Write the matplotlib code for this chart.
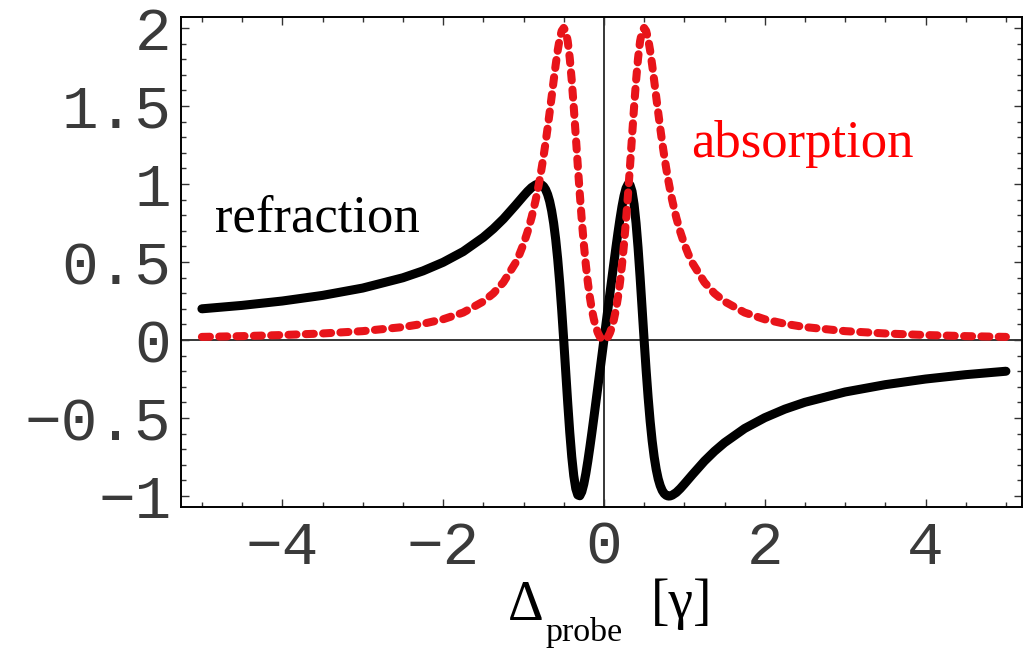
import matplotlib
matplotlib.use("Agg")
import matplotlib.pyplot as plt
from matplotlib.ticker import MultipleLocator, FixedLocator, FixedFormatter

# probe detuning in units of gamma (left half, then right half)
detuning_left = [-5.0, -4.5, -4.0, -3.5, -3.0, -2.5, -2.25, -2.0, -1.75, -1.5,
                 -1.375, -1.25, -1.1, -1.05, -1.0, -0.95, -0.9, -0.85, -0.825, -0.8,
                 -0.775, -0.75, -0.725, -0.7, -0.675, -0.65, -0.625, -0.6, -0.575, -0.55,
                 -0.525, -0.5, -0.475, -0.45, -0.425, -0.4, -0.375, -0.35, -0.325, -0.3,
                 -0.275, -0.25, -0.225, -0.2, -0.175, -0.15, -0.125, -0.1, -0.075, -0.05,
                 -0.025, 0.0]
absorption_left = [0.02, 0.025, 0.032, 0.042, 0.057, 0.083, 0.104, 0.133, 0.176, 0.247,
                   0.299, 0.37, 0.494, 0.55, 0.615, 0.693, 0.785, 0.894, 0.957, 1.025,
                   1.1, 1.18, 1.267, 1.36, 1.459, 1.56, 1.663, 1.763, 1.854, 1.93,
                   1.981, 2.0, 1.979, 1.915, 1.807, 1.663, 1.492, 1.307, 1.118, 0.936,
                   0.767, 0.615, 0.483, 0.37, 0.275, 0.196, 0.133, 0.083, 0.046, 0.02,
                   0.005, 0.0]
refraction_left = [0.2, 0.222, 0.25, 0.286, 0.333, 0.399, 0.443, 0.498, 0.567, 0.658,
                   0.713, 0.776, 0.863, 0.893, 0.923, 0.952, 0.977, 0.994, 0.999, 1.0,
                   0.995, 0.984, 0.964, 0.933, 0.889, 0.828, 0.748, 0.646, 0.52, 0.368,
                   0.193, 0.0, -0.203, -0.404, -0.59, -0.748, -0.87, -0.952, -0.993, -0.998,
                   -0.972, -0.923, -0.856, -0.776, -0.688, -0.595, -0.498, -0.399, -0.3, -0.2,
                   -0.1, 0.0]

detuning_right = [0.025, 0.05, 0.075, 0.1, 0.125, 0.15, 0.175, 0.2, 0.225, 0.25,
                  0.275, 0.3, 0.325, 0.35, 0.375, 0.4, 0.425, 0.45, 0.475, 0.5,
                  0.525, 0.55, 0.575, 0.6, 0.625, 0.65, 0.675, 0.7, 0.725, 0.75,
                  0.775, 0.8, 0.825, 0.85, 0.9, 0.95, 1.0, 1.05, 1.1, 1.25,
                  1.375, 1.5, 1.75, 2.0, 2.25, 2.5, 3.0, 3.5, 4.0, 4.5, 5.0]
absorption_right = [0.005, 0.02, 0.046, 0.083, 0.133, 0.196, 0.275, 0.37, 0.483, 0.615,
                    0.767, 0.936, 1.118, 1.307, 1.492, 1.663, 1.807, 1.915, 1.979, 2.0,
                    1.981, 1.93, 1.854, 1.763, 1.663, 1.56, 1.459, 1.36, 1.267, 1.18,
                    1.1, 1.025, 0.957, 0.894, 0.785, 0.693, 0.615, 0.55, 0.494, 0.37,
                    0.299, 0.247, 0.176, 0.133, 0.104, 0.083, 0.057, 0.042, 0.032, 0.025, 0.02]
refraction_right = [0.1, 0.2, 0.3, 0.399, 0.498, 0.595, 0.688, 0.776, 0.856, 0.923,
                    0.972, 0.998, 0.993, 0.952, 0.87, 0.748, 0.59, 0.404, 0.203, 0.0,
                    -0.193, -0.368, -0.52, -0.646, -0.748, -0.828, -0.889, -0.933, -0.964, -0.984,
                    -0.995, -1.0, -0.999, -0.994, -0.977, -0.952, -0.923, -0.893, -0.863, -0.776,
                    -0.713, -0.658, -0.567, -0.498, -0.443, -0.399, -0.333, -0.286, -0.25, -0.222, -0.2]

xticks = [-4, -2, 0, 2, 4]
xticklabels = ["\u22124", "\u22122", "0", "2", "4"]
yticks = [-1, -0.5, 0, 0.5, 1, 1.5, 2]
yticklabels = ["\u22121", "\u22120.5", "0", "0.5", "1", "1.5", "2"]

detuning = detuning_left + detuning_right
absorption = absorption_left + absorption_right
refraction = refraction_left + refraction_right

W, H = 1026, 650
fig = plt.figure(figsize=(W / 100, H / 100), dpi=100)
ax = fig.add_axes([181 / W, 1 - 507 / H, (1022 - 181) / W, (507 - 17) / H])

ax.axhline(0, color="black", lw=1.1, zorder=1)
ax.axvline(0, color="black", lw=1.1, zorder=1)

ax.plot(detuning, refraction, color="black", lw=6.5, solid_capstyle="round",
        solid_joinstyle="round", zorder=2)
red, = ax.plot(detuning, absorption, color="#e8141a", lw=5.8, zorder=3,
               dash_capstyle="round", dash_joinstyle="round")
red.set_dashes((1.0, 1.15))

ax.set_xlim(-5.26, 5.2)
ax.set_ylim(-1.07, 2.07)

mono = ["Liberation Mono", "DejaVu Sans Mono"]
ax.xaxis.set_major_locator(FixedLocator(xticks))
ax.xaxis.set_major_formatter(FixedFormatter(xticklabels))
ax.yaxis.set_major_locator(FixedLocator(yticks))
ax.yaxis.set_major_formatter(FixedFormatter(yticklabels))
ax.xaxis.set_minor_locator(MultipleLocator(0.5))
ax.yaxis.set_minor_locator(MultipleLocator(0.1))
ax.tick_params(which="both", direction="in", top=True, right=True,
               color="#333333", width=1.0)
ax.tick_params(which="major", length=6)
ax.tick_params(which="minor", length=3.5)
ax.tick_params(axis="x", which="major", pad=9)
ax.tick_params(axis="y", which="major", pad=7)
for lab in ax.get_xticklabels() + ax.get_yticklabels():
    lab.set_family(mono)
    lab.set_fontsize(44)
    lab.set_color("#3a3a3a")
for s in ax.spines.values():
    s.set_linewidth(1.4)

serif = ["Liberation Serif", "DejaVu Serif"]
fig.text(215 / W, 1 - 232 / H, "refraction", family=serif, fontsize=38,
         color="black", va="baseline")
fig.text(691 / W, 1 - 157 / H, "absorption", family=serif, fontsize=38,
         color="#ff0000", va="baseline")

fig.text(508 / W, 1 - 620 / H, "\u0394", family=serif, fontsize=40, va="baseline")
fig.text(545 / W, 1 - 641 / H, "probe", family=serif, fontsize=24.5, va="baseline")
fig.text(651 / W, 1 - 618 / H, "[\u03b3]", family=serif, fontsize=40, va="baseline")

fig.savefig("out.png", dpi=100)
